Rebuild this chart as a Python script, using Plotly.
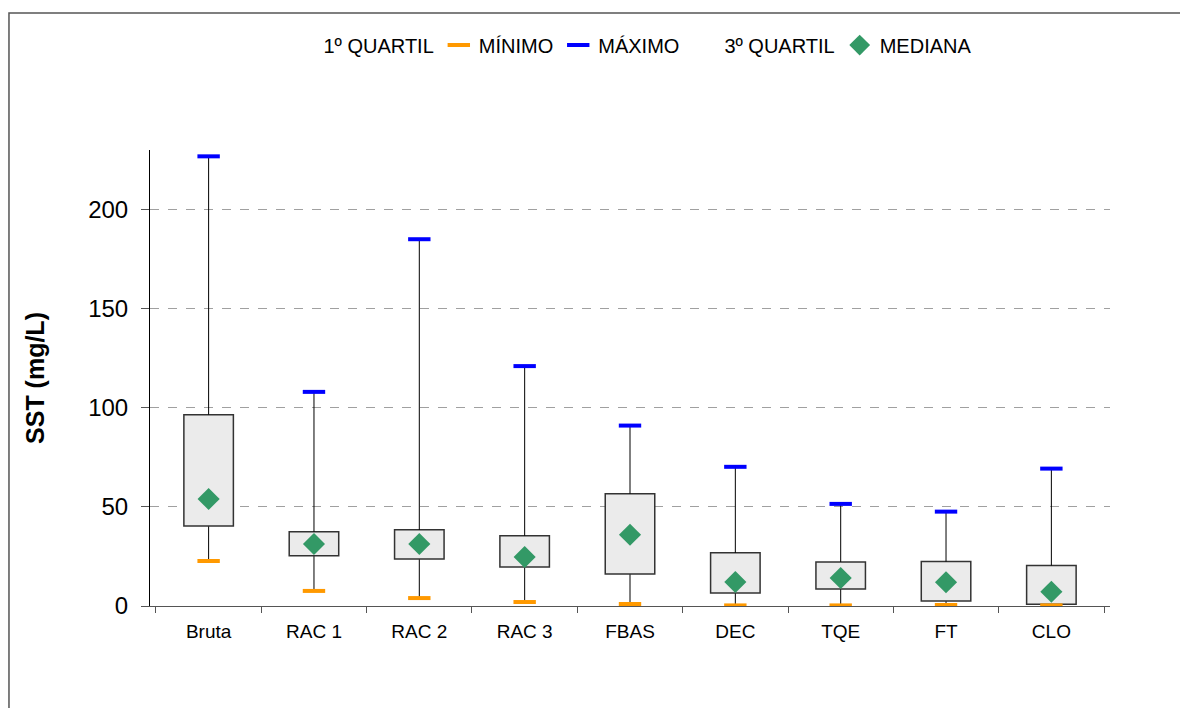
import plotly.graph_objects as go

# valores (SST, mg/L)
etapas = ["Bruta", "RAC 1", "RAC 2", "RAC 3", "FBAS", "DEC", "TQE", "FT", "CLO"]
minimo = [22.7, 7.6, 4.0, 2.0, 1.0, 0.3, 0.3, 0.5, 0.3]
quartil1 = [40.4, 25.3, 23.7, 19.7, 16.2, 6.6, 8.6, 2.5, 0.9]
mediana = [54.0, 31.3, 31.3, 24.7, 35.9, 12.1, 14.1, 12.0, 7.2]
quartil3 = [96.5, 37.4, 38.4, 35.4, 56.6, 26.8, 22.2, 22.4, 20.4]
maximo = [226.8, 108.0, 185.0, 121.0, 91.0, 70.2, 51.5, 47.6, 69.3]

LARG = 0.47
FONTE = "Liberation Sans, Arial, sans-serif"

caixa = [q3 - q1 for q1, q3 in zip(quartil1, quartil3)]
bigode_inf = [q1 - mn for mn, q1 in zip(minimo, quartil1)]
bigode_sup = [mx - q3 for q3, mx in zip(quartil3, maximo)]
zeros = [0] * len(etapas)

fig = go.Figure()

# 1º quartil: barra invisível, só carrega o bigode inferior
fig.add_trace(go.Bar(
    x=etapas, y=quartil1, width=LARG, name="1º QUARTIL",
    marker=dict(color="rgba(0,0,0,0)", line=dict(width=0)),
    error_y=dict(type="data", symmetric=False, array=zeros, arrayminus=bigode_inf,
                 color="black", thickness=1, width=0),
    hoverinfo="skip",
))

# caixa (1º ao 3º quartil) + bigode superior
fig.add_trace(go.Bar(
    x=etapas, y=caixa, base=quartil1, width=LARG, name="3º QUARTIL", showlegend=False,
    marker=dict(color="#ebebeb", line=dict(color="#333333", width=1.5)),
    error_y=dict(type="data", symmetric=False, array=bigode_sup, arrayminus=zeros,
                 color="black", thickness=1, width=0),
))

fig.add_trace(go.Scatter(
    x=etapas, y=minimo, mode="markers", name="MÍNIMO",
    marker=dict(symbol="line-ew", size=16, line=dict(color="#FF9900", width=4)),
))
fig.add_trace(go.Scatter(
    x=etapas, y=maximo, mode="markers", name="MÁXIMO",
    marker=dict(symbol="line-ew", size=16, line=dict(color="#0000FF", width=4)),
))
# entrada de legenda sem símbolo visível
fig.add_trace(go.Bar(
    x=[None], y=[None], name="3º QUARTIL",
    marker=dict(color="rgba(0,0,0,0)", line=dict(width=0)),
))
fig.add_trace(go.Scatter(
    x=etapas, y=mediana, mode="markers", name="MEDIANA",
    marker=dict(symbol="diamond", size=17, color="#339966"),
))

fig.update_layout(
    width=1188, height=708,
    margin=dict(l=142, r=86, t=142, b=110),
    paper_bgcolor="white", plot_bgcolor="white",
    barmode="overlay",
    font=dict(family=FONTE, color="black"),
    legend=dict(orientation="h", x=0.5, xanchor="center", y=1.23, yanchor="middle",
                font=dict(size=20), itemwidth=30, traceorder="normal"),
    xaxis=dict(
        type="category", showline=True, linecolor="#555555", linewidth=1,
        ticks="outside", tickson="boundaries", ticklen=6, tickcolor="#555555",
        tickfont=dict(size=19), ticklabelstandoff=8, showgrid=False,
    ),
    yaxis=dict(
        range=[0, 230], tickvals=[0, 50, 100, 150, 200],
        showline=True, linecolor="black", linewidth=1,
        ticks="outside", ticklen=8, tickcolor="#555555",
        tickfont=dict(size=24), ticklabelstandoff=8,
        showgrid=True, gridcolor="#a0a0a0", griddash="dash", gridwidth=1,
        zeroline=False,
        title=dict(text="<b>SST (mg/L)</b>", font=dict(size=25), standoff=36),
    ),
    shapes=[dict(type="rect", xref="paper", yref="paper",
                 x0=-0.1469, x1=1.2, y0=-0.5, y1=1.3004,
                 line=dict(color="#555555", width=1.5), layer="below")],
)

fig.write_html("out.html")
